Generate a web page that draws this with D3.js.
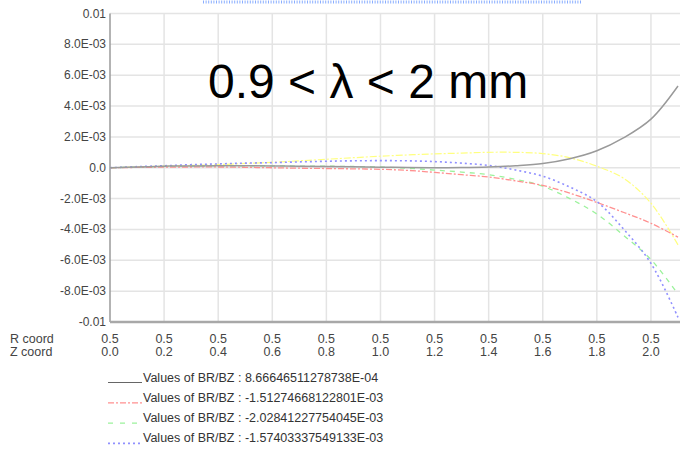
<!DOCTYPE html>
<meta charset="utf-8">
<style>
body { margin: 0; background: #fff; }
svg { font-family: "Liberation Sans", Arial, sans-serif; }
.grid line { stroke: #e4e4e4; stroke-width: 1.5px; }
.ylab { font-size: 12px; fill: #444; text-anchor: end; }
.xlab { font-size: 12.5px; fill: #444; text-anchor: middle; }
.leg { font-size: 12.5px; fill: #333; }
</style>
<body>
<script src="https://d3js.org/d3.v7.min.js"></script>
<script>
// Z coordinate samples (R coord is 0.5 everywhere)
var zVals = [0, 0.1, 0.2, 0.3, 0.4, 0.5, 0.6, 0.7, 0.8, 0.9, 1.0, 1.1, 1.2, 1.3, 1.4, 1.5, 1.6, 1.7, 1.8, 1.9, 2.0, 2.1];

// BR/BZ values, in units of 1E-3
var grayVals   = [0, 0.05, 0.1, 0.12, 0.13, 0.13, 0.12, 0.1, 0.08, 0.06, 0.04, 0.02, 0, 0.01, 0.05, 0.13, 0.27, 0.58, 1.1, 1.95, 3.15, 5.3];
var redVals    = [0, 0.02, 0.04, 0.05, 0.05, 0.03, 0, -0.03, -0.05, -0.07, -0.1, -0.17, -0.3, -0.45, -0.6, -0.85, -1.15, -1.65, -2.25, -2.9, -3.6, -4.5];
var greenVals  = [0, 0.04, 0.08, 0.1, 0.12, 0.12, 0.12, 0.11, 0.1, 0.08, 0.05, -0.03, -0.15, -0.28, -0.45, -0.75, -1.2, -2.0, -3.0, -4.4, -5.95, -8.2];
var blueVals   = [0, 0.07, 0.13, 0.2, 0.25, 0.3, 0.33, 0.38, 0.42, 0.45, 0.46, 0.45, 0.4, 0.3, 0.15, -0.15, -0.55, -1.25, -2.2, -4.0, -6.2, -9.7];
var yellowVals = [0, 0.05, 0.1, 0.15, 0.2, 0.28, 0.35, 0.45, 0.55, 0.65, 0.75, 0.83, 0.9, 0.95, 1.0, 1.0, 0.92, 0.65, 0.1, -0.7, -2.3, -5.0];

var yTicks = [0.01, 0.008, 0.006, 0.004, 0.002, 0, -0.002, -0.004, -0.006, -0.008, -0.01];
var yTickLabels = ["0.01", "8.0E-03", "6.0E-03", "4.0E-03", "2.0E-03", "0.0", "-2.0E-03", "-4.0E-03", "-6.0E-03", "-8.0E-03", "-0.01"];
var xTicks = [0, 0.2, 0.4, 0.6, 0.8, 1.0, 1.2, 1.4, 1.6, 1.8, 2.0];
var rTickLabels = ["0.5", "0.5", "0.5", "0.5", "0.5", "0.5", "0.5", "0.5", "0.5", "0.5", "0.5"];
var zTickLabels = ["0.0", "0.2", "0.4", "0.6", "0.8", "1.0", "1.2", "1.4", "1.6", "1.8", "2.0"];

var legendLabels = [
  "Values of BR/BZ : 8.66646511278738E-04",
  "Values of BR/BZ : -1.51274668122801E-03",
  "Values of BR/BZ : -2.02841227754045E-03",
  "Values of BR/BZ : -1.57403337549133E-03"
];

var W = 680, H = 449;
var plotL = 110, plotR = 680, plotT = 13.5, plotB = 322;

var svg = d3.select("body").append("svg")
  .attr("width", W).attr("height", H);

var x = d3.scaleLinear().domain([0, 2.1]).range([plotL, 678]);
var y = d3.scaleLinear().domain([-0.01, 0.01]).range([plotB, plotT]);

// stray dotted strip at the very top
svg.append("line")
  .attr("x1", 203).attr("x2", 582).attr("y1", 2).attr("y2", 2)
  .attr("stroke", "#8aaeff").attr("stroke-width", 3)
  .attr("stroke-dasharray", "1,1.6");

// grid
var grid = svg.append("g").attr("class", "grid");
grid.selectAll(".h").data(yTicks).enter().append("line")
  .attr("x1", plotL).attr("x2", plotR)
  .attr("y1", function(d) { return y(d); }).attr("y2", function(d) { return y(d); });
grid.selectAll(".v").data(xTicks.slice(1)).enter().append("line")
  .attr("y1", plotT).attr("y2", plotB)
  .attr("x1", function(d) { return x(d); }).attr("x2", function(d) { return x(d); });

// axes lines
svg.append("line").attr("x1", plotL).attr("x2", plotL).attr("y1", plotT).attr("y2", plotB)
  .attr("stroke", "#9a9a9a").attr("stroke-width", 1.5);
svg.append("line").attr("x1", plotL).attr("x2", plotR).attr("y1", plotB).attr("y2", plotB)
  .attr("stroke", "#a8a8a8").attr("stroke-width", 2.5);

// y labels
svg.selectAll(".ylab").data(yTicks).enter().append("text")
  .attr("class", "ylab")
  .attr("x", 106)
  .attr("y", function(d) { return y(d) + 4; })
  .text(function(d, i) { return yTickLabels[i]; });

// x labels, two rows
svg.selectAll(".xr").data(xTicks).enter().append("text")
  .attr("class", "xlab")
  .attr("x", function(d) { return x(d); })
  .attr("y", 343)
  .text(function(d, i) { return rTickLabels[i]; });
svg.selectAll(".xz").data(xTicks).enter().append("text")
  .attr("class", "xlab")
  .attr("x", function(d) { return x(d); })
  .attr("y", 356)
  .text(function(d, i) { return zTickLabels[i]; });
svg.append("text").attr("class", "xlab").style("text-anchor", "start")
  .attr("x", 10).attr("y", 343).text("R coord");
svg.append("text").attr("class", "xlab").style("text-anchor", "start")
  .attr("x", 10).attr("y", 356).text("Z coord");

// title
svg.append("text")
  .attr("x", 208).attr("y", 98)
  .style("font-size", "48px").style("fill", "#000")
  .text("0.9 < \u03bb < 2 mm");

// curves
svg.append("clipPath").attr("id", "clip")
  .append("rect").attr("x", plotL).attr("y", plotT).attr("width", plotR - plotL).attr("height", plotB - plotT);

var series = [
  { vals: yellowVals, color: "#ffff80", width: 1.2, dash: "7,2,2,2" },
  { vals: greenVals,  color: "#9cf29c", width: 1.3, dash: "5,5" },
  { vals: redVals,    color: "#ff9090", width: 1.3, dash: "6,2,2,2" },
  { vals: blueVals,   color: "#9090ff", width: 1.6, dash: "2,3" },
  { vals: grayVals,   color: "#9a9a9a", width: 1.5, dash: null }
];

var line = d3.line()
  .x(function(d) { return x(d[0]); })
  .y(function(d) { return y(d[1] / 1000); })
  .curve(d3.curveCatmullRom);

var plot = svg.append("g").attr("clip-path", "url(#clip)");
series.forEach(function(s) {
  plot.append("path")
    .datum(zVals.map(function(z, i) { return [z, s.vals[i]]; }))
    .attr("d", line)
    .attr("fill", "none")
    .attr("stroke", s.color)
    .attr("stroke-width", s.width)
    .attr("stroke-dasharray", s.dash);
});

// legend
var legStyles = [
  { color: "#666", dash: null, width: 1 },
  { color: "#ff9090", dash: "6,2,2,2", width: 1.3 },
  { color: "#9cf29c", dash: "5,7", width: 1.3 },
  { color: "#9090ff", dash: "2,3", width: 1.6 }
];
var leg = svg.selectAll(".legrow").data(legendLabels).enter().append("g")
  .attr("transform", function(d, i) { return "translate(0," + (382.5 + i * 20.3) + ")"; });
leg.append("line")
  .attr("x1", 108).attr("x2", 142).attr("y1", 0).attr("y2", 0)
  .attr("stroke", function(d, i) { return legStyles[i].color; })
  .attr("stroke-width", function(d, i) { return legStyles[i].width; })
  .attr("stroke-dasharray", function(d, i) { return legStyles[i].dash; });
leg.append("text").attr("class", "leg")
  .attr("x", 143).attr("y", -1)
  .text(function(d) { return d; });
</script>
</body>
